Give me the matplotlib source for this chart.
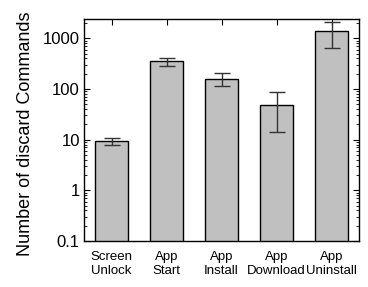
import numpy as np
import matplotlib.pyplot as plt
from matplotlib.ticker import LogLocator, FixedLocator, NullFormatter

# data
labels = ['Screen\nUnlock', 'App\nStart', 'App\nInstall', 'App\nDownload', 'App\nUninstall']
values = [9.3, 350, 158, 49, 1380]
err_low = [7.8, 283, 112, 14, 655]
err_high = [10.6, 415, 209, 86, 2070]

plt.rcParams['font.family'] = ['Liberation Sans', 'DejaVu Sans']

fig = plt.figure(figsize=(3.68, 2.87), dpi=100)
ax = fig.add_axes([84 / 368, 1 - 241 / 287, 275 / 368, 222 / 287])

x = np.arange(len(labels))
vals = np.array(values)
yerr = np.vstack([vals - np.array(err_low), np.array(err_high) - vals])

ax.bar(x, vals, width=0.6, color='#c0c0c0', edgecolor='black', linewidth=1.0, zorder=2)
ax.errorbar(x, vals, yerr=yerr, fmt='none', ecolor='#333333', elinewidth=1.0,
            capsize=6, capthick=1.0, zorder=3)

ax.set_yscale('log')
ax.set_ylim(0.1, 2400)
ax.set_xlim(-0.5, len(labels) - 0.5)

ax.yaxis.set_major_locator(FixedLocator([0.1, 1, 10, 100, 1000]))
ax.set_yticklabels(['0.1', '1', '10', '100', '1000'], fontsize=12)
ax.yaxis.set_minor_locator(LogLocator(base=10, subs=np.arange(2, 10)))
ax.yaxis.set_minor_formatter(NullFormatter())

ax.set_xticks(x)
ax.set_xticklabels(labels, fontsize=9.5, linespacing=1.2)

ax.tick_params(axis='both', which='major', direction='in', length=4, width=0.8,
               top=True, right=True)
ax.tick_params(axis='y', which='minor', direction='in', length=2, width=0.6,
               right=True)
ax.tick_params(axis='x', pad=7)
ax.tick_params(axis='y', pad=3)

for s in ax.spines.values():
    s.set_linewidth(1.0)

ax.set_ylabel('Number of discard Commands', fontsize=13)
ax.yaxis.set_label_coords(-0.18, 0.482)

fig.savefig('out.png', dpi=100)
